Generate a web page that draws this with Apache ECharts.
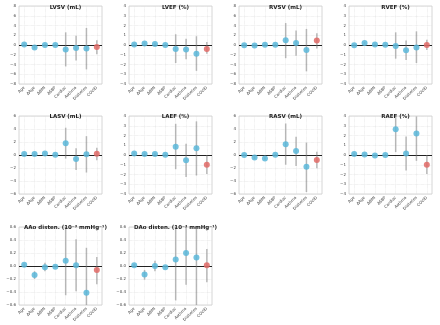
<!DOCTYPE html>
<html>
<head>
<meta charset="utf-8">
<script src="https://cdn.jsdelivr.net/npm/echarts@6/dist/echarts.min.js"></script>
<style>
html,body{margin:0;padding:0;background:#fff;}
#main{width:440px;height:325px;}
</style>
</head>
<body>
<div id="main"></div>
<script>
// categories and panel titles
var categories = ['Age', 'ΔAge', 'ΔBMI', 'ΔSBP', 'Cardiac', 'Asthma', 'Diabetes', 'COVID'];
var panelTitles = ['LVSV (mL)', 'LVEF (%)', 'RVSV (mL)', 'RVEF (%)',
    'LASV (mL)', 'LAEF (%)', 'RASV (mL)', 'RAEF (%)',
    'AAo disten. (10\u207B\u00B3 mmHg\u207B\u00B9)', 'DAo disten. (10\u207B\u00B3 mmHg\u207B\u00B9)'];

// y axis ranges
var yMin  = [-8, -4, -8, -4, -6, -4, -6, -4, -0.6, -0.6];
var yMax  = [ 8,  4,  8,  4,  6,  4,  6,  4,  0.6,  0.6];
var yStep = [ 2,  1,  2,  1,  2,  1,  2,  1,  0.2,  0.2];

// estimates and confidence intervals
var lvsvMean = [0.1, -0.5, 0.0, 0.0, -0.9, -0.6, -0.7, -0.4];
var lvsvLow  = [-0.1, -0.7, -0.2, -0.2, -4.4, -3.2, -5.0, -1.9];
var lvsvHigh = [0.3, -0.3, 0.2, 0.2, 2.6, 1.9, 3.5, 1.0];

var lvefMean = [0.05, 0.15, 0.1, 0.0, -0.4, -0.45, -0.9, -0.4];
var lvefLow  = [-0.05, 0.05, 0.0, -0.1, -1.85, -1.45, -2.65, -0.9];
var lvefHigh = [0.15, 0.25, 0.2, 0.1, 1.1, 0.65, 0.9, 0.3];

var rvsvMean = [-0.05, -0.1, 0.05, 0.05, 1.0, 0.4, -1.0, 0.9];
var rvsvLow  = [-0.25, -0.3, -0.15, -0.15, -2.7, -2.2, -5.4, -0.7];
var rvsvHigh = [0.15, 0.1, 0.25, 0.25, 4.5, 3.0, 3.3, 2.4];

var rvefMean = [-0.03, 0.2, 0.05, 0.03, -0.1, -0.55, -0.25, 0.0];
var rvefLow  = [-0.13, 0.1, -0.05, -0.07, -1.4, -1.55, -1.85, -0.5];
var rvefHigh = [0.07, 0.3, 0.15, 0.13, 1.3, 0.45, 1.4, 0.55];

var lasvMean = [0.15, 0.15, 0.25, 0.05, 1.8, -0.6, 0.1, 0.2];
var lasvLow  = [0.0, 0.0, 0.1, -0.1, -0.55, -2.3, -2.7, -0.8];
var lasvHigh = [0.3, 0.3, 0.4, 0.2, 4.2, 1.05, 2.9, 1.1];

var laefMean = [0.15, 0.1, 0.1, 0.03, 0.85, -0.55, 0.7, -1.0];
var laefLow  = [0.05, 0.0, 0.0, -0.07, -1.45, -2.25, -2.1, -1.95];
var laefHigh = [0.25, 0.2, 0.2, 0.13, 3.2, 1.15, 3.45, 0.0];

var rasvMean = [0.0, -0.4, -0.55, 0.05, 1.65, 0.6, -1.8, -0.75];
var rasvLow  = [-0.15, -0.6, -0.75, -0.1, -1.5, -1.7, -5.7, -2.05];
var rasvHigh = [0.15, -0.2, -0.35, 0.2, 4.85, 2.8, 1.9, 0.5];

var raefMean = [0.1, 0.05, -0.05, 0.0, 2.65, 0.15, 2.2, -1.0];
var raefLow  = [0.0, -0.05, -0.15, -0.1, 0.3, -1.6, -0.6, -1.95];
var raefHigh = [0.2, 0.15, 0.05, 0.1, 4.2, 1.9, 3.95, 0.0];

var aaoMean = [0.02, -0.14, -0.02, -0.01, 0.08, 0.01, -0.41, -0.06];
var aaoLow  = [0.0, -0.2, -0.08, -0.03, -0.45, -0.39, -0.65, -0.28];
var aaoHigh = [0.04, -0.08, 0.05, 0.01, 0.7, 0.41, 0.28, 0.14];

var daoMean = [0.01, -0.13, 0.0, -0.02, 0.1, 0.2, 0.13, 0.01];
var daoLow  = [-0.01, -0.21, -0.08, -0.04, -0.53, -0.29, -0.7, -0.25];
var daoHigh = [0.03, -0.06, 0.08, 0.0, 0.7, 0.7, 0.7, 0.26];

var means = [lvsvMean, lvefMean, rvsvMean, rvefMean, lasvMean, laefMean, rasvMean, raefMean, aaoMean, daoMean];
var lows  = [lvsvLow, lvefLow, rvsvLow, rvefLow, lasvLow, laefLow, rasvLow, raefLow, aaoLow, daoLow];
var highs = [lvsvHigh, lvefHigh, rvsvHigh, rvefHigh, lasvHigh, laefHigh, rasvHigh, raefHigh, aaoHigh, daoHigh];

var colLeft = [19, 129, 239, 349];
var rowTop = [6, 116, 227];
var plotW = 83, plotH = 78;
var font = 'DejaVu Sans';

function renderErr(params, api) {
    var x = api.value(0);
    var p1 = api.coord([x, api.value(1)]);
    var p2 = api.coord([x, api.value(2)]);
    return {
        type: 'line',
        shape: {x1: p1[0], y1: p1[1], x2: p2[0], y2: p2[1]},
        style: {stroke: 'rgba(120,120,120,0.5)', lineWidth: 1.5}
    };
}

function tickFmt(d) {
    return function (v) { return v.toFixed(d).replace('-', '\u2212'); };
}

function buildChart() {
    var chart = echarts.init(document.getElementById('main'));
    var grids = [], xAxes = [], yAxes = [], titles = [], series = [];

    for (var i = 0; i < 10; i++) {
        var gLeft = colLeft[i % 4], gTop = rowTop[Math.floor(i / 4)];
        grids.push({left: gLeft, top: gTop, width: plotW, height: plotH, show: true,
            borderColor: '#cccccc', borderWidth: 0.8});
        titles.push({text: panelTitles[i], left: gLeft + plotW / 2, top: Math.max(0, gTop - 7), textAlign: 'center',
            textStyle: {fontFamily: font, fontSize: 5.5, fontWeight: 'bold', color: '#222'}});
        xAxes.push({type: 'category', gridIndex: i, data: categories,
            axisLine: {show: false}, axisTick: {show: false}, splitLine: {show: false},
            axisLabel: {rotate: 45, fontSize: 4, fontFamily: font, color: '#444', margin: 3, interval: 0}});
        yAxes.push({type: 'value', gridIndex: i, min: yMin[i], max: yMax[i], interval: yStep[i],
            axisLine: {show: false}, axisTick: {show: false},
            splitLine: {show: true, lineStyle: {color: '#dddddd', type: 'dotted', width: 0.6}},
            axisLabel: {fontSize: 4, fontFamily: font, color: '#444', margin: 3,
                formatter: tickFmt(yStep[i] < 1 ? 1 : 0)}});

        var errData = [], ptData = [], vLines = [];
        for (var k = 0; k < categories.length; k++) {
            errData.push([k, lows[i][k], highs[i][k]]);
            ptData.push({value: [k, means[i][k]], itemStyle: {color: k === 7 ? '#e06a66' : '#5bb7d9'}});
            vLines.push({xAxis: k, lineStyle: {color: '#dddddd', type: 'dotted', width: 0.6}});
        }
        vLines.push({yAxis: 0, lineStyle: {color: '#222', type: 'solid', width: 1.2}});
        series.push({type: 'custom', xAxisIndex: i, yAxisIndex: i, renderItem: renderErr,
            data: errData, clip: true, z: 3, silent: true});
        series.push({type: 'scatter', xAxisIndex: i, yAxisIndex: i, data: ptData, symbolSize: 6, z: 5,
            itemStyle: {opacity: 0.85},
            markLine: {silent: true, symbol: 'none', label: {show: false}, z: 1, data: vLines}});
    }

    chart.setOption({
        animation: false,
        backgroundColor: '#fff',
        title: titles,
        grid: grids,
        xAxis: xAxes,
        yAxis: yAxes,
        series: series
    });
}
buildChart();
</script>
</body>
</html>
